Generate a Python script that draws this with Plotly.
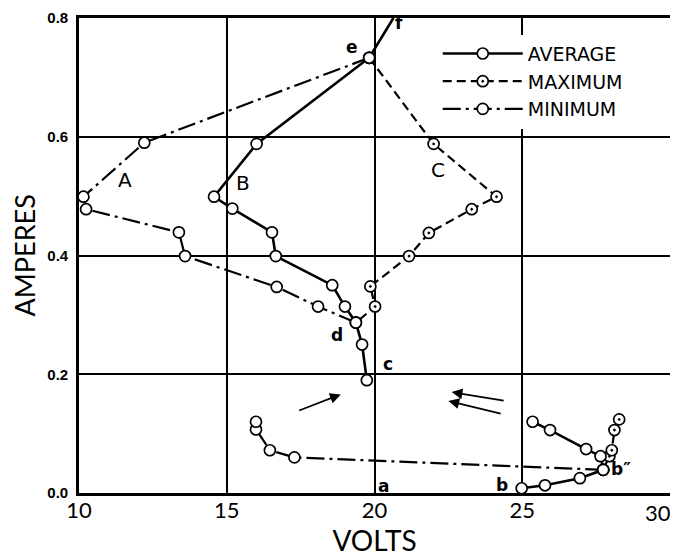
import plotly.graph_objects as go

# ---------------- data ----------------
# AVERAGE (solid, open circles)
AVG_UP_V = [19.82, 16.01, 14.57, 15.19, 16.53, 16.66, 18.57, 19.00, 19.37, 19.58, 19.74]
AVG_UP_A = [0.733, 0.588, 0.499, 0.479, 0.439, 0.399, 0.350, 0.314, 0.287, 0.250, 0.190]
AVG_LO_V = [24.98, 25.77, 26.95, 27.74, 27.65, 27.16, 25.94, 25.35]
AVG_LO_A = [0.008, 0.013, 0.025, 0.039, 0.062, 0.074, 0.106, 0.120]
AVG_F_V = [19.82, 20.64]          # line e -> f (runs off the top)
AVG_F_A = [0.733, 0.800]

# MAXIMUM (dashed, dotted circles)
MAX_UP_V = [19.82, 22.00, 24.13, 23.29, 21.84, 21.17, 19.86, 20.02, 19.37]
MAX_UP_A = [0.733, 0.588, 0.499, 0.478, 0.438, 0.399, 0.348, 0.314, 0.287]
MAX_LO_V = [27.74, 27.95, 28.03, 28.12, 28.28]
MAX_LO_A = [0.039, 0.062, 0.072, 0.106, 0.124]

# MINIMUM (dash-dot, open circles)
MIN_UP_V = [19.82, 12.21, 10.15, 10.24, 13.38, 13.59, 16.69, 18.09, 19.37]
MIN_UP_A = [0.733, 0.590, 0.499, 0.478, 0.439, 0.399, 0.347, 0.314, 0.287]
MIN_LO_V = [27.74, 17.29, 16.46, 15.99, 15.99]
MIN_LO_A = [0.039, 0.060, 0.072, 0.107, 0.120]

X_TICKS = [10, 15, 20, 25]
X_TICK_TEXT = ["10", "15", "20", "25"]
X_LAST_TICK = "30"   # drawn at the right edge of the axis
Y_TICKS = [0.0, 0.2, 0.4, 0.6, 0.8]
Y_TICK_TEXT = ["0.0", "0.2", "0.4", "0.6", "0.8"]

POINT_LABELS = [  # (text, volts, amperes)
    ("A", 11.55, 0.527), ("B", 15.55, 0.522), ("C", 22.15, 0.544),
    ("e", 19.25, 0.752), ("f", 20.82, 0.792), ("d", 18.73, 0.266),
    ("c", 20.47, 0.217), ("a", 20.30, 0.012), ("b", 24.30, 0.013),
    ("b\u2033", 28.33, 0.040),
]
ARROWS = [  # (tail_v, tail_a, head_v, head_a)
    (17.40, 0.138, 18.86, 0.166),
    (24.42, 0.155, 22.61, 0.170),
    (24.32, 0.133, 22.50, 0.155),
]

# ---------------- figure ----------------
FONT = "Lato"
fig = go.Figure()

def concat(a, b):
    return a + [None] + b

open_marker = dict(symbol="circle", size=11, color="white", line=dict(color="black", width=1.7))
dot_marker = dict(symbol="circle-dot", size=11, color="white", line=dict(color="black", width=1.7))

fig.add_trace(go.Scatter(
    x=concat(MAX_UP_V, MAX_LO_V), y=concat(MAX_UP_A, MAX_LO_A),
    mode="lines+markers", name="MAXIMUM", legendrank=2, cliponaxis=False,
    line=dict(color="black", width=2.2, dash="9px,5px"), marker=dot_marker,
))
fig.add_trace(go.Scatter(
    x=concat(MIN_UP_V, MIN_LO_V), y=concat(MIN_UP_A, MIN_LO_A),
    mode="lines+markers", name="MINIMUM", legendrank=3, cliponaxis=False,
    line=dict(color="black", width=2.2, dash="18px,5px,3px,5px"), marker=open_marker,
))
fig.add_trace(go.Scatter(
    x=AVG_F_V, y=AVG_F_A, mode="lines", showlegend=False,
    line=dict(color="black", width=2.6),
))
fig.add_trace(go.Scatter(
    x=concat(AVG_UP_V, AVG_LO_V), y=concat(AVG_UP_A, AVG_LO_A),
    mode="lines+markers", name="AVERAGE", legendrank=1, cliponaxis=False,
    line=dict(color="black", width=2.6), marker=open_marker,
))

annotations = []
for txt, v, a in POINT_LABELS:
    big = txt in ("A", "B", "C")
    annotations.append(dict(
        x=v, y=a, xref="x", yref="y", text=txt, showarrow=False,
        font=dict(family="DejaVu Sans", size=20 if big else 17, color="black",
                  weight="normal" if big else "bold"),
    ))
for tv, ta, hv, ha in ARROWS:
    annotations.append(dict(
        x=hv, y=ha, ax=tv, ay=ta, xref="x", yref="y", axref="x", ayref="y",
        text="", showarrow=True, arrowhead=2, arrowsize=1.2, arrowwidth=1.8,
        arrowcolor="black",
    ))
# last x tick label, kept inside the page
annotations.append(dict(
    x=1, y=0, xref="paper", yref="paper", text=X_LAST_TICK, showarrow=False,
    xanchor="right", yanchor="top", xshift=3, yshift=-4,
    font=dict(family=FONT, size=22, color="black"),
))
# y-axis title placed as rotated text
annotations.append(dict(
    x=-0.0914, y=0.5, xref="paper", yref="paper", text="AMPERES", textangle=-90,
    showarrow=False, xanchor="center", yanchor="middle", borderpad=0,
    font=dict(family=FONT, size=27, color="black"),
))

# the page body adds an 8px offset, so the figure is 8px smaller and margins shifted
fig.update_layout(
    width=670, height=549,
    margin=dict(l=71, r=8, t=10, b=64),
    paper_bgcolor="white", plot_bgcolor="white",
    font=dict(family=FONT, color="black"),
    showlegend=True,
    legend=dict(
        x=0.607, y=0.965, xanchor="left", yanchor="top",
        bgcolor="white", borderwidth=0, itemwidth=80,
        font=dict(family="DejaVu Sans", size=19, color="black"),
        tracegroupgap=0,
    ),
    annotations=annotations,
    xaxis=dict(
        range=[10, 30], tickvals=X_TICKS, ticktext=X_TICK_TEXT,
        showgrid=True, gridcolor="black", gridwidth=1.5,
        showline=True, linecolor="black", linewidth=2.6, mirror=True,
        zeroline=False, ticks="", ticklabelstandoff=-4, automargin=False,
        tickfont=dict(family=FONT, size=22),
        title=dict(text="VOLTS", font=dict(family=FONT, size=28), standoff=2),
    ),
    yaxis=dict(
        range=[0, 0.8], tickvals=Y_TICKS, ticktext=Y_TICK_TEXT,
        showgrid=True, gridcolor="black", gridwidth=1.5,
        showline=True, linecolor="black", linewidth=2.6, mirror=True,
        zeroline=False, ticks="", ticklabelstandoff=5, automargin=False,
        tickfont=dict(family="Liberation Sans", size=15, weight="bold"),
    ),
)

fig.write_html("out.html")
